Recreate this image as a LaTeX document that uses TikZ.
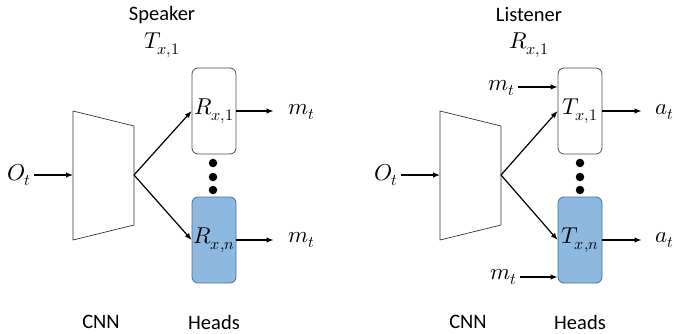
\documentclass[tikz,border=0pt]{standalone}
\usepackage{fontspec}
\usepackage{unicode-math}
\setmainfont{Carlito}
\setmathfont{Latin Modern Math}[Scale=1.12]
\usetikzlibrary{arrows.meta}

\definecolor{headblue}{HTML}{8DB8DF}
\definecolor{headline}{HTML}{41719C}

\tikzset{
  lbl/.style={font=\fontsize{20.5}{24}\selectfont, inner sep=3pt},
  head/.style={draw=black!70, line width=0.8pt, rounded corners=6pt,
    minimum width=44pt, minimum height=86pt, inner sep=0pt,
    font=\fontsize{20.5}{24}\selectfont},
  headn/.style={head, draw=headline, fill=headblue},
  cnn/.style={draw=black!80, line width=0.7pt},
  arr/.style={-{Latex[length=7pt,width=5.5pt]}, line width=1.2pt},
  dotc/.style={circle, fill=black, inner sep=0pt, minimum size=8.5pt},
}

\begin{document}
\begin{tikzpicture}[x=1pt, y=-1pt]
    \useasboundingbox (0,0) rectangle (675,333);

    % speaker
    \node[lbl] (spk) at (162,15) {Speaker};
    \node[lbl] (spkt) at (162,45) {$T_{x,1}$};
    \draw[cnn] (73,111) -- (134,126) -- (134,225) -- (73,240) -- cycle;
    \coordinate (sin) at (73,175);
    \coordinate (stip) at (134,175);
    \node[lbl] (so) at (19,175) {$O_t$};
    \draw[arr] (so) -- (sin);
    \node[head] (r1) at (214,111) {$R_{x,1}$};
    \node[headn] (rn) at (214,240) {$R_{x,n}$};
    \draw[arr] (stip) -- (r1.west);
    \draw[arr] (stip) -- (rn.west);
    \node[dotc] (sd1) at (213,163) {};
    \node[dotc] (sd2) at (213,177) {};
    \node[dotc] (sd3) at (213,190) {};
    \node[lbl] (sm1) at (302,112) {$m_t$};
    \node[lbl] (smn) at (302,240) {$m_t$};
    \draw[arr, shorten >=12pt] (r1.east) -- (r1.east -| sm1.west);
    \draw[arr, shorten >=12pt] (rn.east) -- (rn.east -| smn.west);
    \node[lbl] (scnn) at (101,322) {CNN};
    \node[lbl] (shd) at (214,322) {Heads};

    % listener
    \begin{scope}[xshift=367pt]
    \node[lbl] (lst) at (162,15) {Listener};
    \node[lbl] (lstr) at (162,45) {$R_{x,1}$};
    \draw[cnn] (73,111) -- (134,126) -- (134,225) -- (73,240) -- cycle;
    \coordinate (lin) at (73,175);
    \coordinate (ltip) at (134,175);
    \node[lbl] (lo) at (19,175) {$O_t$};
    \draw[arr] (lo) -- (lin);
    \node[head] (t1) at (213,111) {$T_{x,1}$};
    \node[headn] (tn) at (213,240) {$T_{x,n}$};
    \draw[arr] (ltip) -- (t1.west);
    \draw[arr] (ltip) -- (tn.west);
    \node[dotc] (ld1) at (213,163) {};
    \node[dotc] (ld2) at (213,177) {};
    \node[dotc] (ld3) at (213,190) {};
    \node[lbl] (lmi1) at (135,88) {$m_t$};
    \node[lbl] (lmin) at (137,277) {$m_t$};
    \draw[arr] (lmi1.east |- 0,87) -- (t1.west |- 0,87);
    \draw[arr] (lmin.east |- 0,277) -- (tn.west |- 0,277);
    \node[lbl] (la1) at (298,112) {$a_t$};
    \node[lbl] (lan) at (298,240) {$a_t$};
    \draw[arr, shorten >=11pt] (t1.east) -- (t1.east -| la1.west);
    \draw[arr, shorten >=11pt] (tn.east) -- (tn.east -| lan.west);
    \node[lbl] (lcnn) at (101,322) {CNN};
    \node[lbl] (lhd) at (213,322) {Heads};
    \end{scope}
\end{tikzpicture}
\end{document}
